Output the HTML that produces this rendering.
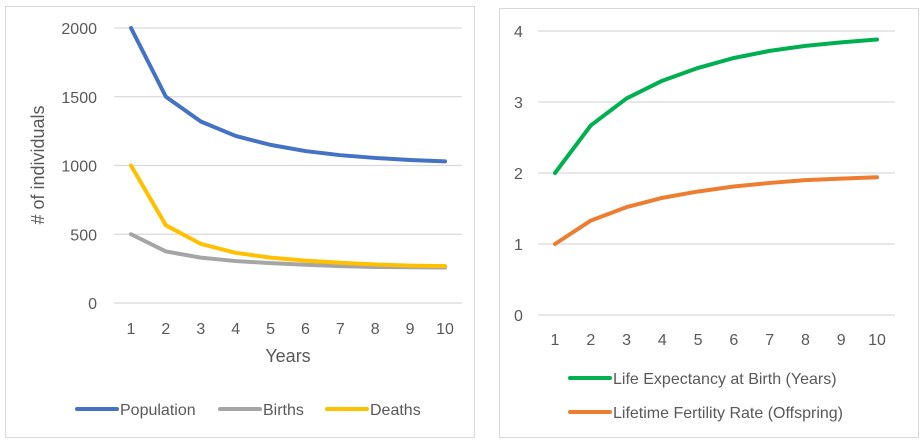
<!DOCTYPE html>
<html><head><meta charset="utf-8"><style>
body{margin:0;background:#fff;width:924px;height:442px;overflow:hidden;font-family:"Liberation Sans",sans-serif}
svg text{font-family:"Liberation Sans",sans-serif;fill:#595959}
</style></head><body>
<svg id="s" width="924" height="442">
<rect x="5.5" y="6.5" width="469" height="431" fill="#fff" stroke="#d9d9d9"/>
<rect x="499.5" y="8.5" width="419" height="429" fill="#fff" stroke="#d9d9d9"/>
<text x="44" y="165" font-size="18" text-anchor="middle" transform="rotate(-90 44 165)"># of individuals</text>
<text x="288" y="362" font-size="18" text-anchor="middle">Years</text>
</svg>
<script>
const years=[1,2,3,4,5,6,7,8,9,10];
const leftTicks=[0,500,1000,1500,2000];
const population=[2000,1500,1320,1215,1150,1105,1075,1055,1040,1030];
const births=[500,375,330,305,290,278,268,262,260,258];
const deaths=[1000,565,430,365,330,308,293,280,272,268];
const rightTicks=[0,1,2,3,4];
const lifeExpectancy=[2,2.67,3.05,3.3,3.48,3.62,3.72,3.79,3.84,3.88];
const fertility=[1,1.33,1.52,1.65,1.74,1.81,1.86,1.9,1.92,1.94];
const NS="http://www.w3.org/2000/svg",svg=document.getElementById('s');
function mk(t,a,txt){const e=document.createElementNS(NS,t);for(const k in a)e.setAttribute(k,a[k]);if(txt!=null)e.textContent=txt;svg.appendChild(e);return e;}
function chart(o){
 const y=v=>o.y0-(v-o.min)/(o.max-o.min)*(o.y0-o.y1);
 const x=i=>o.x0+(i)*(o.x1-o.x0)/(years.length-1);
 o.ticks.forEach(t=>{
  const g=mk('line',{x1:o.gx0,x2:o.gx1,y1:y(t),y2:y(t),stroke:'#d9d9d9','stroke-width':1.3});
  
  
  const l=mk('text',{x:o.lx,y:y(t)+6,'font-size':16,'text-anchor':o.anchor},t);
  
  
 });
 years.forEach((c,i)=>{
  const l=mk('text',{x:x(i),y:o.xly,'font-size':16,'text-anchor':'middle'},c);
  
  
 });
 o.series.forEach(s=>{
  const p=mk('polyline',{points:s.v.map((v,i)=>x(i)+','+y(v)).join(' '),fill:'none',stroke:s.c,'stroke-width':4,'stroke-linejoin':'round','stroke-linecap':'round'});
  
  
  const lg=mk('line',{x1:s.lx,x2:s.lx+40,y1:s.ly,y2:s.ly,stroke:s.c,'stroke-width':4,'stroke-linecap':'round'});
  
  
  const lt=mk('text',{x:s.lx+43,y:s.ly+6,'font-size':16},s.label);
  
  
 });
}
chart({min:0,max:2000,y0:303,y1:28,x0:131,x1:445,gx0:114,gx1:462,lx:97,anchor:'end',xly:334,ticks:leftTicks,
 series:[{v:population,c:'#4472c4',n:'population',label:'Population',lx:77,ly:409},
 {v:births,c:'#a5a5a5',n:'births',label:'Births',lx:220,ly:409},
 {v:deaths,c:'#ffc000',n:'deaths',label:'Deaths',lx:327,ly:409}]});
chart({min:0,max:4,y0:315,y1:31,x0:555,x1:877,gx0:538,gx1:895,lx:514,anchor:'start',xly:345,ticks:rightTicks,
 series:[{v:lifeExpectancy,c:'#00b050',n:'life-expectancy',label:'Life Expectancy at Birth (Years)',lx:570,ly:378},
 {v:fertility,c:'#ed7d31',n:'fertility',label:'Lifetime Fertility Rate (Offspring)',lx:570,ly:412}]});
</script>
</body></html>
